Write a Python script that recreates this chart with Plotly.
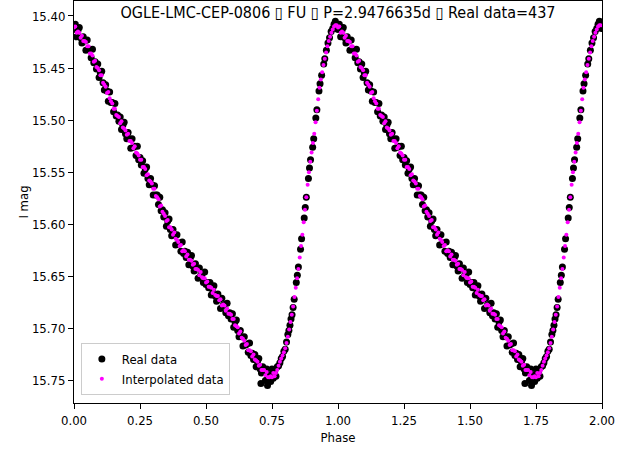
import numpy as np
import plotly.graph_objects as go

# ---------------- data (one pulsation cycle, drawn twice) ----------------
real_phase = [
0.000,0.005,0.010,0.015,0.020,0.025,0.030,0.035,0.040,0.045,
0.050,0.055,0.060,0.065,0.070,0.075,0.080,0.085,0.090,0.095,
0.100,0.105,0.110,0.115,0.120,0.125,0.130,0.135,0.140,0.145,
0.150,0.155,0.160,0.165,0.170,0.175,0.180,0.185,0.190,0.195,
0.200,0.205,0.210,0.215,0.220,0.225,0.230,0.235,0.240,0.245,
0.250,0.255,0.260,0.265,0.270,0.275,0.280,0.285,0.290,0.295,
0.300,0.305,0.310,0.315,0.320,0.325,0.330,0.335,0.340,0.345,
0.350,0.355,0.360,0.365,0.370,0.375,0.380,0.385,0.390,0.395,
0.400,0.405,0.410,0.415,0.420,0.425,0.430,0.435,0.440,0.445,
0.450,0.455,0.460,0.465,0.470,0.475,0.480,0.485,0.490,0.495,
0.500,0.505,0.510,0.515,0.520,0.525,0.530,0.535,0.540,0.545,
0.550,0.555,0.560,0.565,0.570,0.575,0.580,0.585,0.590,0.595,
0.600,0.605,0.610,0.615,0.620,0.625,0.630,0.635,0.640,0.645,
0.650,0.655,0.660,0.665,0.670,0.675,0.680,0.685,0.690,0.695,
0.700,0.705,0.708,0.710,0.715,0.720,0.725,0.730,0.733,0.735,0.740,0.745,
0.750,0.755,0.760,0.765,0.770,
0.775,0.780,0.785,0.790,0.795,0.800,0.805,0.810,0.814,0.818,0.822,0.826,0.830,0.834,
0.842,0.846,0.850,0.858,0.862,0.872,0.876,0.880,0.888,0.892,0.896,0.904,0.908,
0.916,0.920,0.928,0.932,0.938,0.946,0.950,0.956,0.962,0.968,0.974,0.980,0.985,0.990,0.995,0.998]
real_mag = [
15.413,15.408,15.420,15.414,15.411,15.421,15.426,15.420,15.424,15.433,
15.423,15.432,15.432,15.440,15.432,15.445,15.444,15.451,15.446,15.459,
15.455,15.453,15.464,15.471,15.466,15.472,15.482,15.473,15.483,15.483,
15.492,15.484,15.496,15.495,15.501,15.497,15.509,15.505,15.502,15.513,
15.518,15.512,15.518,15.527,15.518,15.526,15.525,15.534,15.525,15.538,
15.536,15.543,15.539,15.551,15.547,15.545,15.556,15.562,15.556,15.562,
15.572,15.563,15.572,15.572,15.581,15.574,15.587,15.586,15.593,15.589,
15.602,15.597,15.595,15.605,15.611,15.605,15.610,15.620,15.610,15.619,
15.618,15.626,15.617,15.628,15.626,15.632,15.627,15.639,15.633,15.630,
15.640,15.645,15.638,15.643,15.652,15.642,15.649,15.648,15.656,15.646,
15.658,15.656,15.661,15.656,15.668,15.663,15.659,15.669,15.674,15.667,
15.672,15.681,15.671,15.678,15.677,15.685,15.676,15.688,15.685,15.691,
15.686,15.699,15.694,15.692,15.702,15.708,15.702,15.708,15.717,15.708,
15.716,15.715,15.723,15.714,15.726,15.724,15.730,15.725,15.737,15.732,
15.729,15.739,15.753,15.743,15.737,15.741,15.750,15.739,15.755,15.747,15.745,15.751,
15.739,15.748,15.743,15.746,15.737,
15.736,15.733,15.729,15.727,15.722,15.720,15.713,15.706,15.702,15.697,15.691,15.687,15.680,15.672,
15.656,15.649,15.641,15.624,15.614,15.594,15.584,15.574,15.556,15.546,15.538,15.526,15.518,
15.498,15.490,15.472,15.465,15.457,15.446,15.441,15.433,15.426,15.421,15.415,15.412,15.408,15.405,15.409,15.412]

interp_phase = [
0.000,0.005,0.010,0.015,0.020,0.025,0.030,0.035,0.040,0.045,
0.050,0.055,0.060,0.065,0.070,0.075,0.080,0.085,0.090,0.095,
0.100,0.105,0.110,0.115,0.120,0.125,0.130,0.135,0.140,0.145,
0.150,0.155,0.160,0.165,0.170,0.175,0.180,0.185,0.190,0.195,
0.200,0.205,0.210,0.215,0.220,0.225,0.230,0.235,0.240,0.245,
0.250,0.255,0.260,0.265,0.270,0.275,0.280,0.285,0.290,0.295,
0.300,0.305,0.310,0.315,0.320,0.325,0.330,0.335,0.340,0.345,
0.350,0.355,0.360,0.365,0.370,0.375,0.380,0.385,0.390,0.395,
0.400,0.405,0.410,0.415,0.420,0.425,0.430,0.435,0.440,0.445,
0.450,0.455,0.460,0.465,0.470,0.475,0.480,0.485,0.490,0.495,
0.500,0.505,0.510,0.515,0.520,0.525,0.530,0.535,0.540,0.545,
0.550,0.555,0.560,0.565,0.570,0.575,0.580,0.585,0.590,0.595,
0.600,0.605,0.610,0.615,0.620,0.625,0.630,0.635,0.640,0.645,
0.650,0.655,0.660,0.665,0.670,0.675,0.680,0.685,0.690,0.695,
0.700,0.705,0.710,0.715,0.720,0.725,0.730,0.735,0.740,0.745,
0.750,0.755,0.760,0.765,0.770,0.775,0.780,0.785,0.790,0.795,
0.800,0.805,0.810,0.815,0.820,0.825,0.830,0.835,0.840,0.845,
0.850,0.855,0.860,0.865,0.870,0.875,0.880,0.885,0.890,0.895,
0.900,0.905,0.910,0.915,0.920,0.925,0.930,0.935,0.940,0.945,
0.950,0.955,0.960,0.965,0.970,0.975,0.980,0.985,0.990,0.995]
interp_mag = [
15.411,15.410,15.416,15.415,15.416,15.421,15.419,15.424,15.424,15.425,
15.429,15.429,15.436,15.436,15.438,15.444,15.443,15.449,15.450,15.452,
15.457,15.457,15.464,15.466,15.468,15.474,15.473,15.479,15.482,15.484,
15.489,15.489,15.495,15.496,15.497,15.503,15.501,15.507,15.508,15.510,
15.514,15.513,15.520,15.520,15.522,15.527,15.525,15.531,15.532,15.534,
15.538,15.538,15.545,15.545,15.547,15.553,15.552,15.558,15.559,15.561,
15.566,15.566,15.573,15.574,15.576,15.583,15.582,15.588,15.590,15.592,
15.597,15.596,15.603,15.603,15.605,15.610,15.608,15.614,15.615,15.617,
15.621,15.620,15.626,15.625,15.626,15.631,15.629,15.634,15.634,15.635,
15.639,15.638,15.643,15.643,15.644,15.649,15.646,15.651,15.652,15.652,
15.656,15.655,15.660,15.660,15.661,15.666,15.663,15.668,15.669,15.669,
15.673,15.672,15.678,15.677,15.678,15.683,15.681,15.686,15.686,15.687,
15.691,15.691,15.697,15.698,15.699,15.705,15.703,15.709,15.710,15.712,
15.716,15.715,15.721,15.721,15.722,15.727,15.725,15.730,15.731,15.732,
15.736,15.735,15.740,15.740,15.740,15.745,15.742,15.747,15.747,15.746,
15.747,15.743,15.746,15.743,15.740,15.736,15.732,15.729,15.726,15.723,
15.719,15.714,15.708,15.701,15.694,15.687,15.679,15.670,15.661,15.652,
15.643,15.632,15.621,15.610,15.598,15.586,15.574,15.562,15.550,15.540,
15.531,15.522,15.513,15.502,15.491,15.480,15.469,15.461,15.454,15.447,
15.441,15.435,15.429,15.424,15.420,15.416,15.413,15.410,15.409,15.409]

x_ticks = [0.0, 0.25, 0.5, 0.75, 1.0, 1.25, 1.5, 1.75, 2.0]
y_ticks = [15.40, 15.45, 15.50, 15.55, 15.60, 15.65, 15.70, 15.75]
title_text = "OGLE-LMC-CEP-0806 \u25af FU \u25af P=2.9476635d \u25af Real data=437"

rp = np.array(real_phase); rm = np.array(real_mag)
ip = np.array(interp_phase); im = np.array(interp_mag)

FONT = "DejaVu Sans Condensed, DejaVu Sans, sans-serif"

fig = go.Figure()
fig.add_trace(go.Scatter(
    x=np.concatenate([rp, rp + 1]), y=np.concatenate([rm, rm]),
    mode="markers", name="Real data",
    marker=dict(color="black", size=7, line=dict(width=0)),
))
fig.add_trace(go.Scatter(
    x=np.concatenate([ip, ip + 1]), y=np.concatenate([im, im]),
    mode="markers", name="Interpolated data",
    marker=dict(color="#ff00ff", size=4, line=dict(width=0)),
))

axis_common = dict(
    showgrid=False, zeroline=False, showline=True, linecolor="black", linewidth=1,
    mirror=True, ticks="outside", ticklen=5, tickcolor="black", automargin=False,
    tickfont=dict(family=FONT, size=13, color="black"),
)
fig.update_xaxes(range=[0, 2], tickvals=x_ticks, tickformat=".2f",
                 title=dict(text="Phase", font=dict(family=FONT, size=13, color="black"), standoff=6),
                 **axis_common)
fig.update_yaxes(range=[15.7717, 15.3856], tickvals=y_ticks, tickformat=".2f",
                 title=dict(text="I mag", font=dict(family=FONT, size=13, color="black"), standoff=0),
                 **axis_common)

fig.update_layout(
    width=640, height=451,
    margin=dict(l=74, r=38, t=1, b=48),
    paper_bgcolor="white", plot_bgcolor="white",
    font=dict(family=FONT, color="black"),
    title=dict(text=title_text, x=0.5, xref="paper", y=1 - 12 / 451, yref="container",
               xanchor="center", yanchor="middle", automargin=False,
               font=dict(family=FONT, size=16, color="black")),
    legend=dict(x=0.013, y=0.02, xanchor="left", yanchor="bottom",
                bgcolor="white", bordercolor="#cccccc", borderwidth=1,
                font=dict(family=FONT, size=13, color="black"),
                itemsizing="trace", tracegroupgap=2),
    showlegend=True,
)

fig.write_html("out.html", config={"displayModeBar": False},
               post_script="document.body.style.margin='0';document.body.style.padding='0';")
